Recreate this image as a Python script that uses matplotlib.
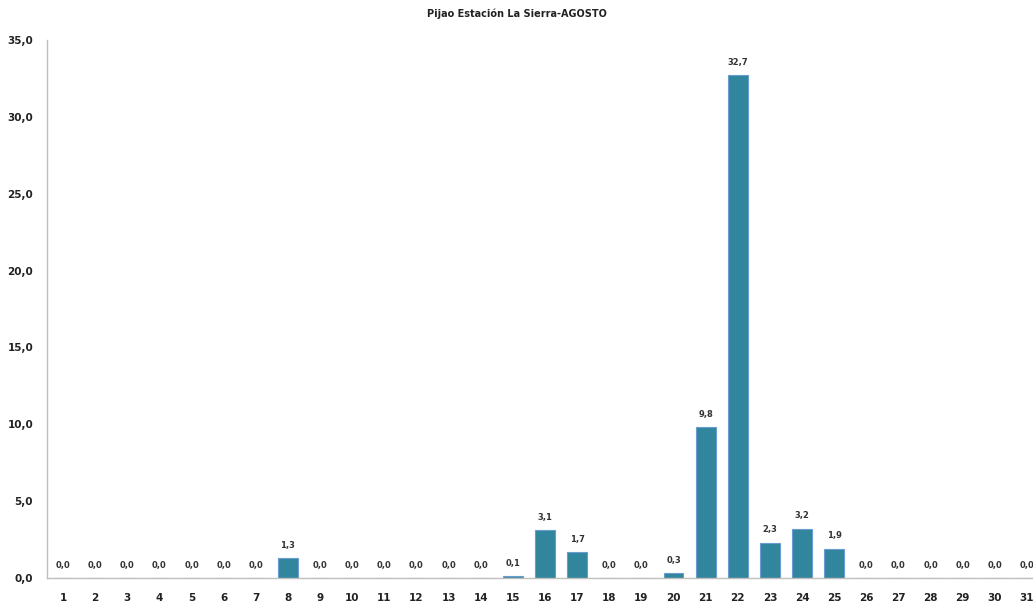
import matplotlib
matplotlib.use("Agg")
import matplotlib.pyplot as plt
from matplotlib.ticker import FuncFormatter

days = [str(d) for d in range(1, 32)]
rain = [0.0, 0.0, 0.0, 0.0, 0.0, 0.0, 0.0, 1.3, 0.0, 0.0,
        0.0, 0.0, 0.0, 0.0, 0.1, 3.1, 1.7, 0.0, 0.0, 0.3,
        9.8, 32.7, 2.3, 3.2, 1.9, 0.0, 0.0, 0.0, 0.0, 0.0, 0.0]
title = "Pijao Estación La Sierra-AGOSTO"
yticks = [0, 5, 10, 15, 20, 25, 30, 35]

fig = plt.figure(figsize=(10.33, 6.11), dpi=100)
ax = fig.add_axes([47/1033, 33/611, (1043-47)/1033, (578-40)/611])

x = list(range(1, 32))
ax.bar(x, rain, width=0.62, color="#31859C", edgecolor="#6A9BD1", linewidth=0.8)
for xi, v in zip(x, rain):
    ax.annotate(f"{v:.1f}".replace(".", ","), (xi, v), xytext=(0, 6),
                textcoords="offset points", ha="center", va="bottom",
                fontsize=6, fontweight="bold", color="#333333")

ax.set_xlim(0.5, 31.5)
ax.set_ylim(0, 35)
ax.set_yticks(yticks)
ax.yaxis.set_major_formatter(FuncFormatter(lambda v, p: f"{v:.1f}".replace(".", ",")))
ax.set_xticks(x)
ax.set_xticklabels(days)
ax.tick_params(axis="both", length=0, labelsize=7.5, colors="#222222")
ax.tick_params(axis="y", pad=10)
ax.tick_params(axis="x", pad=11)
for lbl in ax.get_xticklabels() + ax.get_yticklabels():
    lbl.set_fontweight("bold")
for s in ["top", "right"]:
    ax.spines[s].set_visible(False)
for s in ["left", "bottom"]:
    ax.spines[s].set_color("#BFBFBF")
    ax.spines[s].set_linewidth(1.0)

fig.text(0.5, 1 - 14/611, title, ha="center", va="center", fontsize=7, fontweight="bold", color="#222222")

fig.savefig("out.png", dpi=100)
